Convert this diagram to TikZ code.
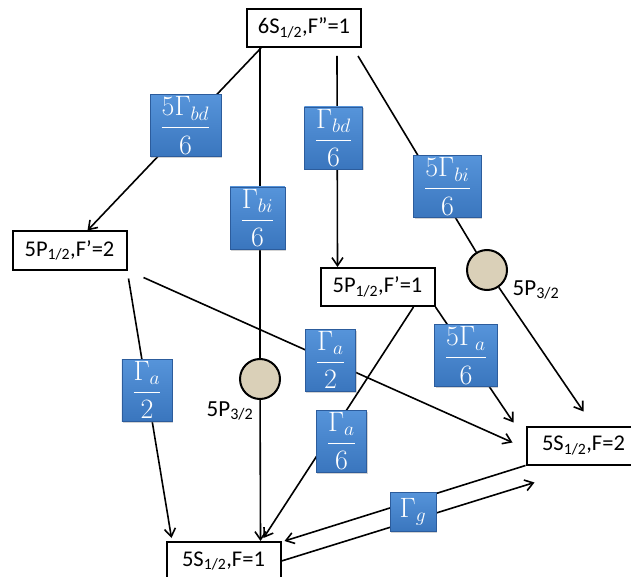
\documentclass[tikz,border=0pt]{standalone}
\usepackage{amsmath}
\usepackage{fontspec}
\setmainfont{Carlito}
\usetikzlibrary{arrows.meta,shadows}
\definecolor{rateblue}{RGB}{58,118,190}
\definecolor{ratetop}{RGB}{86,148,218}
\definecolor{rateedge}{RGB}{44,92,156}
\definecolor{linen}{RGB}{218,208,184}
\newcommand{\rfrac}[2]{\scalebox{1.35}{$\displaystyle\frac{#1}{#2}$}}
\tikzstyle{level}=[draw,line width=2pt,fill=white,minimum width=114pt,minimum height=38pt,inner sep=0pt,font=\fontsize{22.5}{26}\selectfont]
\tikzstyle{hub}=[circle,draw,line width=2pt,fill=linen,minimum size=40pt,inner sep=0pt]
\tikzstyle{rate}=[draw=rateedge,line width=0.6pt,top color=ratetop,bottom color=rateblue,text=white,minimum height=62pt,minimum width=46pt,inner xsep=10pt,inner ysep=0pt,drop shadow={opacity=0.35,shadow xshift=1pt,shadow yshift=-1.5pt},font=\fontsize{20}{24}\selectfont]
\tikzstyle{tag}=[inner sep=0pt,font=\fontsize{23}{27}\selectfont]

\begin{document}
\begin{tikzpicture}[x=1pt,y=-1pt,line width=1.6pt,>={Straight Barb[length=8pt,width=11pt]}]
\useasboundingbox (0,0) rectangle (631,577);
\node[level] at (304, 28) (top) {6S\textsubscript{1/2},F”=1};
\node[level] at (69.5, 250.5) (p2) {5P\textsubscript{1/2},F’=2};
\node[level] at (377.5, 287) (p1) {5P\textsubscript{1/2},F’=1};
\node[level] at (583.5, 445.5) (s2) {5S\textsubscript{1/2},F=2};
\node[level] at (223.5, 561) (s1) {5S\textsubscript{1/2},F=1};
\node[hub] at (260, 379) (hl) {};
\node[hub] at (487, 270) (hr) {};
\node[tag] at (230, 411) (tl) {5P\textsubscript{3/2}};
\node[tag] at (536, 290) (tr) {5P\textsubscript{3/2}};

\draw[->] ([xshift=-43pt]top.south) -- ([xshift=18pt]p2.north);
\draw ([xshift=-44pt]top.south) -- (hl);
\draw[->] (hl) -- ([xshift=37pt]s1.north);
\draw[->] ([xshift=33pt,yshift=-8pt]top.south) -- ([xshift=-40pt]p1.north);
\draw ([xshift=54pt,yshift=-8pt]top.south) -- (hr);
\draw[->] (hr) -- ([yshift=14pt]s2.north);
\draw[->] ([xshift=1pt,yshift=-8pt]p2.south east) -- ([xshift=6pt,yshift=3pt]s1.north west);
\draw[->] ([xshift=16pt,yshift=-7pt]p2.south east) -- ([xshift=-13pt,yshift=3pt]s2.west);
\draw[->] ([xshift=36pt]p1.south) -- ([xshift=40pt,yshift=3pt]s1.north);
\draw[->] (p1.south east) -- ([xshift=-12pt,yshift=3pt]s2.north west);
\draw[->] (s2.south west) -- ([xshift=3pt]s1.north east);
\draw[->] (s1.east) -- ([xshift=9pt,yshift=-17pt]s2.south west);

\node[rate] at (185.5, 125.5) (bd5) {\rfrac{5\Gamma_{bd}}{6}};
\node[rate] at (257.5, 218) (bi1) {\rfrac{\Gamma_{bi}}{6}};
\node[rate] at (333.5, 138) (bd1) {\rfrac{\Gamma_{bd}}{6}};
\node[rate] at (447.5, 186.5) (bi5) {\rfrac{5\Gamma_{bi}}{6}};
\node[rate] at (147, 390) (a2l) {\rfrac{\Gamma_{a}}{2}};
\node[rate] at (330.5, 360) (a2m) {\rfrac{\Gamma_{a}}{2}};
\node[rate] at (466, 355.5) (a5) {\rfrac{5\Gamma_{a}}{6}};
\node[rate] at (341.5, 441) (a1) {\rfrac{\Gamma_{a}}{6}};
\node[rate,minimum height=39pt,inner xsep=8pt] at (413, 511.5) (g) {\scalebox{1.35}{$\Gamma_{g}$}};
\end{tikzpicture}
\end{document}
